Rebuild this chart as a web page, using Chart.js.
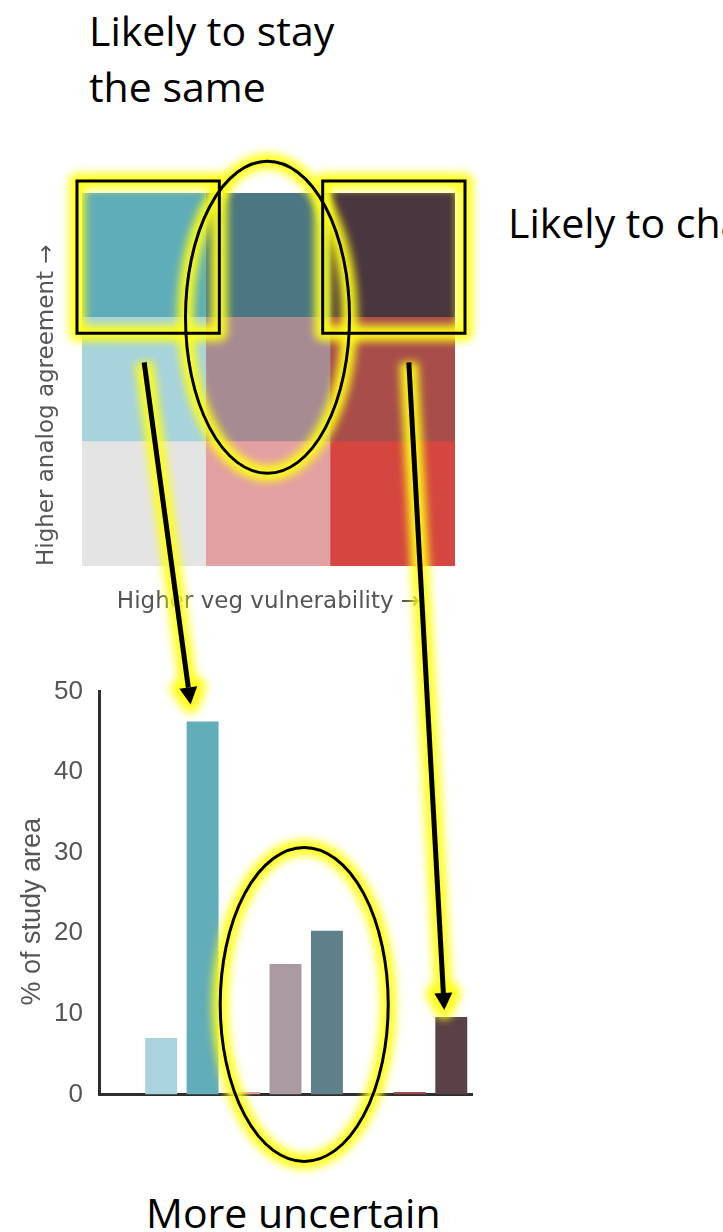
<!DOCTYPE html>
<html>
<head>
<meta charset="utf-8">
<script src="https://cdn.jsdelivr.net/npm/chart.js@4"></script>
<style>
  html, body { margin: 0; padding: 0; background: #fff; }
  body { width: 723px; height: 1232px; position: relative; overflow: hidden; }
  canvas { position: absolute; }
  .note { position: absolute; font-family: 'Open Sans', sans-serif; font-size: 41px; line-height: 56px; color: #000; white-space: nowrap; }
</style>
</head>
<body>
<div class="note" style="left:89px;top:2px">Likely to stay<br>the same</div>
<div class="note" style="left:508px;top:194px">Likely to change</div>
<div class="note" style="left:146px;top:1184px">More uncertain</div>
<canvas id="keyChart" width="424" height="438" style="left:31px;top:180px"></canvas>
<canvas id="barChart" width="467" height="466" style="left:13px;top:660px"></canvas>
<canvas id="marks" width="723" height="1232" style="left:0;top:0"></canvas>
<script>
// bivariate key: columns = veg vulnerability, rows = analog agreement
const vulnLevels = ['Lower', 'Middle', 'Higher'];
const agreeLevels = ['Lower', 'Middle', 'Higher'];
const keyColorsLow = ['#e4e4e4', '#e3a0a2', '#d4463f'];
const keyColorsMid = ['#a7d3dc', '#a78b93', '#a84d4a'];
const keyColorsHigh = ['#5fadb8', '#4a7782', '#4a363e'];

// share of study area per key class
const barLabels = [
    'Low vuln / low agr', 'Low vuln / mid agr', 'Low vuln / high agr',
    'Mid vuln / low agr', 'Mid vuln / mid agr', 'Mid vuln / high agr',
    'High vuln / low agr', 'High vuln / mid agr', 'High vuln / high agr'
];
const barValues = [0, 7, 46.3, 0.3, 16.2, 20.3, 0, 0.3, 9.6];
const barColors = ['#e3e3e3', '#a9d3dd', '#62adba', '#dd9a9c', '#a89aa0', '#5e808b', '#d4463f', '#a04a4a', '#5a4047'];
const yTicks = [0, 10, 20, 30, 40, 50];

const keyTitleFont = { family: 'DejaVu Sans', size: 23 };

const keyConfig = {
    type: 'bar',
    data: {
        labels: vulnLevels,
        datasets: [
            { label: agreeLevels[0], data: vulnLevels.map(() => 1), backgroundColor: keyColorsLow },
            { label: agreeLevels[1], data: vulnLevels.map(() => 1), backgroundColor: keyColorsMid },
            { label: agreeLevels[2], data: vulnLevels.map(() => 1), backgroundColor: keyColorsHigh },
        ],
    },
    options: {
        responsive: false,
        animation: false,
        layout: { padding: { top: 13, right: 0, bottom: 0, left: 0 } },
        datasets: { bar: { barPercentage: 1, categoryPercentage: 1, borderWidth: 0 } },
        plugins: { legend: { display: false }, tooltip: { enabled: false } },
        scales: {
            x: {
                stacked: true,
                grid: { display: false },
                border: { display: false },
                ticks: { display: false },
                title: { display: true, text: 'Higher veg vulnerability →', color: '#555', font: keyTitleFont, padding: { top: 2, bottom: 2 } },
                afterFit: s => { s.height = 52; }
            },
            y: {
                stacked: true,
                min: 0,
                max: agreeLevels.length,
                grid: { display: false },
                border: { display: false },
                ticks: { display: false },
                title: { display: true, text: 'Higher analog agreement →', align: 'start', color: '#555', font: keyTitleFont, padding: { top: 2, bottom: 2 } },
                afterFit: s => { s.width = 51; }
            }
        }
    }
};

const barConfig = {
    type: 'bar',
    data: {
        labels: barLabels,
        datasets: [{ label: '% of study area', data: barValues, backgroundColor: barColors, borderWidth: 0 }],
    },
    options: {
        responsive: false,
        animation: false,
        layout: { padding: { top: 28, right: 8, bottom: 0, left: 0 } },
        datasets: { bar: { barPercentage: 0.77, categoryPercentage: 1 } },
        plugins: { legend: { display: false }, tooltip: { enabled: false } },
        scales: {
            x: {
                grid: { display: false },
                border: { color: '#2e2e2e', width: 3 },
                ticks: { display: false },
                afterFit: s => { s.height = 8; }
            },
            y: {
                min: yTicks[0],
                max: yTicks[yTicks.length - 1],
                grid: { display: false, drawTicks: false },
                border: { color: '#2e2e2e', width: 3 },
                ticks: { stepSize: yTicks[1] - yTicks[0], padding: 16, color: '#555', font: { family: 'Liberation Sans', size: 26 } },
                title: { display: true, text: '% of study area     ', color: '#555', font: { family: 'Liberation Sans', size: 27 }, padding: { top: 3, bottom: 3 } },
                afterFit: s => { s.width = 86; }
            }
        }
    }
};

const keyChart = new Chart(document.getElementById('keyChart'), keyConfig);
const barChart = new Chart(document.getElementById('barChart'), barConfig);

// page position of a bar element
function pageBox(chart, id, ds, i) {
    const el = chart.getDatasetMeta(ds).data[i];
    const c = document.getElementById(id);
    const ox = parseFloat(c.style.left), oy = parseFloat(c.style.top);
    const half = el.width / 2;
    return {
        x: ox + el.x, left: ox + el.x - half, right: ox + el.x + half,
        top: oy + Math.min(el.y, el.base), bottom: oy + Math.max(el.y, el.base)
    };
}

const cellA = pageBox(keyChart, 'keyChart', 2, 0);
const cellB = pageBox(keyChart, 'keyChart', 2, 1);
const cellC = pageBox(keyChart, 'keyChart', 2, 2);
const barA = pageBox(barChart, 'barChart', 0, 2);
const barM1 = pageBox(barChart, 'barChart', 0, 4);
const barM2 = pageBox(barChart, 'barChart', 0, 5);
const barC = pageBox(barChart, 'barChart', 0, 8);

const shapes = [
    { type: 'rect', x1: cellA.left - 5, y1: cellA.top - 12, x2: cellA.right + 13, y2: cellA.bottom + 16 },
    { type: 'rect', x1: cellC.left - 8, y1: cellC.top - 12, x2: cellC.right + 10, y2: cellC.bottom + 16 },
    { type: 'ellipse', cx: cellB.x - 1, cy: cellB.bottom, rx: 82, ry: 156 },
    { type: 'ellipse', cx: (barM1.x + barM2.x) / 2 - 2, cy: barM1.bottom - 90, rx: 84, ry: 157 },
    { type: 'arrow', x1: cellA.x, y1: cellA.bottom + 45, x2: barA.x - 12, y2: barA.top - 17 },
    { type: 'arrow', x1: cellC.x + 16, y1: cellC.bottom + 45, x2: barC.x - 7, y2: barC.top - 7 },
];

const ctx = document.getElementById('marks').getContext('2d');

function arrowHead(s) {
    const dx = s.x2 - s.x1, dy = s.y2 - s.y1;
    const len = Math.hypot(dx, dy);
    const ux = dx / len, uy = dy / len;
    const bx = s.x2 - ux * 17, by = s.y2 - uy * 17;
    return { bx, by, p1: [bx - uy * 9, by + ux * 9], p2: [bx + uy * 9, by - ux * 9] };
}

function trace(s) {
    ctx.beginPath();
    if (s.type === 'rect') ctx.rect(s.x1, s.y1, s.x2 - s.x1, s.y2 - s.y1);
    else if (s.type === 'ellipse') ctx.ellipse(s.cx, s.cy, s.rx, s.ry, 0, 0, Math.PI * 2);
    else {
        const h = arrowHead(s);
        ctx.moveTo(s.x1, s.y1);
        ctx.lineTo(h.bx, h.by);
    }
}

function traceHead(s) {
    const h = arrowHead(s);
    ctx.beginPath();
    ctx.moveTo(s.x2, s.y2);
    ctx.lineTo(h.p1[0], h.p1[1]);
    ctx.lineTo(h.p2[0], h.p2[1]);
    ctx.closePath();
}

// yellow glow first
ctx.save();
ctx.filter = 'blur(4px)';
ctx.strokeStyle = 'rgba(255,255,20,0.95)';
ctx.fillStyle = 'rgba(255,255,20,0.95)';
ctx.lineJoin = 'round';
shapes.forEach(s => {
    ctx.lineWidth = s.type === 'arrow' ? 18 : 16;
    trace(s);
    ctx.stroke();
    if (s.type === 'arrow') { traceHead(s); ctx.stroke(); ctx.fill(); }
});
ctx.restore();

// black outlines on top
ctx.strokeStyle = '#000';
ctx.fillStyle = '#000';
shapes.forEach(s => {
    ctx.lineWidth = s.type === 'arrow' ? 5 : 3;
    trace(s);
    ctx.stroke();
    if (s.type === 'arrow') { traceHead(s); ctx.fill(); }
});
</script>
</body>
</html>
